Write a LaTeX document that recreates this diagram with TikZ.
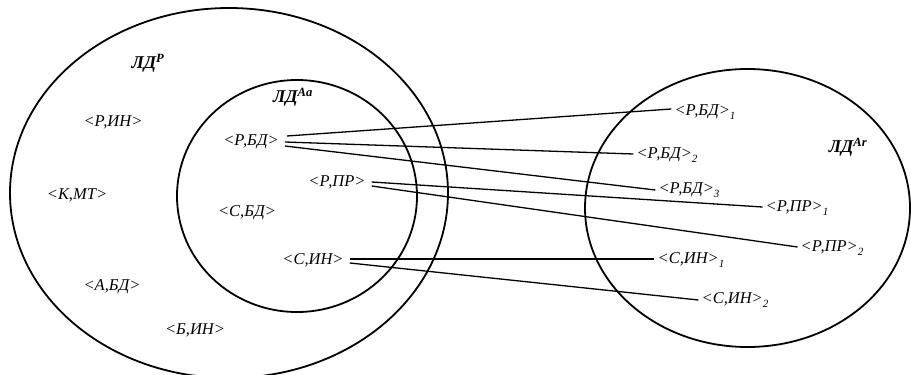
\documentclass[tikz,border=0pt]{standalone}
\usepackage{fontspec}
\setmainfont{Liberation Serif}
\newcommand\sbs[1]{\raisebox{-0.5ex}{\fontsize{11}{12}\selectfont #1}}
\begin{document}
\begin{tikzpicture}[x=1pt,y=-1pt,
  lbl/.style={font=\itshape\fontsize{16.5}{18}\selectfont, inner sep=3pt},
  ttl/.style={font=\bfseries\itshape\fontsize{18}{20}\selectfont, inner sep=1pt},
  ring/.style={line width=1.8pt},
  conn/.style={line width=1.3pt}]
\useasboundingbox (0,0) rectangle (911,375);
\draw[ring] (229,193) ellipse [x radius=219pt, y radius=185pt];
\draw[ring] (297,196) ellipse [x radius=120pt, y radius=116pt];
\draw[ring] (747.5,208) ellipse [x radius=162.5pt, y radius=139pt];

\node[ttl] (ldp) at (148,63) {ЛД\textsuperscript{P}};
\node[ttl] (ldaa) at (293,97) {ЛД\textsuperscript{Aa}};
\node[ttl] (ldar) at (848,147) {ЛД\textsuperscript{Ar}};

\node[lbl] (rin) at (113,122) {<Р,ИН>};
\node[lbl] (kmt) at (77,195) {<К,МТ>};
\node[lbl] (abd) at (112,287) {<А,БД>};
\node[lbl] (bin) at (195,330) {<Б,ИН>};
\node[lbl] (rbd) at (251,142) {<Р,БД>};
\node[lbl] (rpr) at (337,182) {<Р,ПР>};
\node[lbl] (sbd) at (247,213) {<С,БД>};
\node[lbl] (sin) at (313,260) {<С,ИН>};

\node[lbl] (rbd1) at (705,112) {<Р,БД>\sbs{1}};
\node[lbl] (rbd2) at (667,155) {<Р,БД>\sbs{2}};
\node[lbl] (rbd3) at (689,190) {<Р,БД>\sbs{3}};
\node[lbl] (rpr1) at (797,208) {<Р,ПР>\sbs{1}};
\node[lbl] (rpr2) at (832,248) {<Р,ПР>\sbs{2}};
\node[lbl] (sin1) at (691,260) {<С,ИН>\sbs{1}};
\node[lbl] (sin2) at (735,300) {<С,ИН>\sbs{2}};

\draw[conn] ([xshift=5pt,yshift=6pt]rbd.east) -- ([yshift=3pt]rbd1.west);
\draw[conn] ([xshift=3pt,yshift=0pt]rbd.east) -- ([yshift=1pt]rbd2.west);
\draw[conn] ([xshift=3pt,yshift=-4pt]rbd.east) -- ([yshift=0pt]rbd3.west);
\draw[conn] ([xshift=3pt,yshift=0pt]rpr.east) -- ([yshift=1pt]rpr1.west);
\draw[conn] ([xshift=3pt,yshift=-4pt]rpr.east) -- ([yshift=1pt]rpr2.west);
\draw[conn] ([xshift=3pt,yshift=1pt]sin.east) -- ([yshift=1pt]sin1.west);
\draw[conn] ([xshift=3pt,yshift=-3pt]sin.east) -- ([yshift=0pt]sin2.west);
\end{tikzpicture}
\end{document}
